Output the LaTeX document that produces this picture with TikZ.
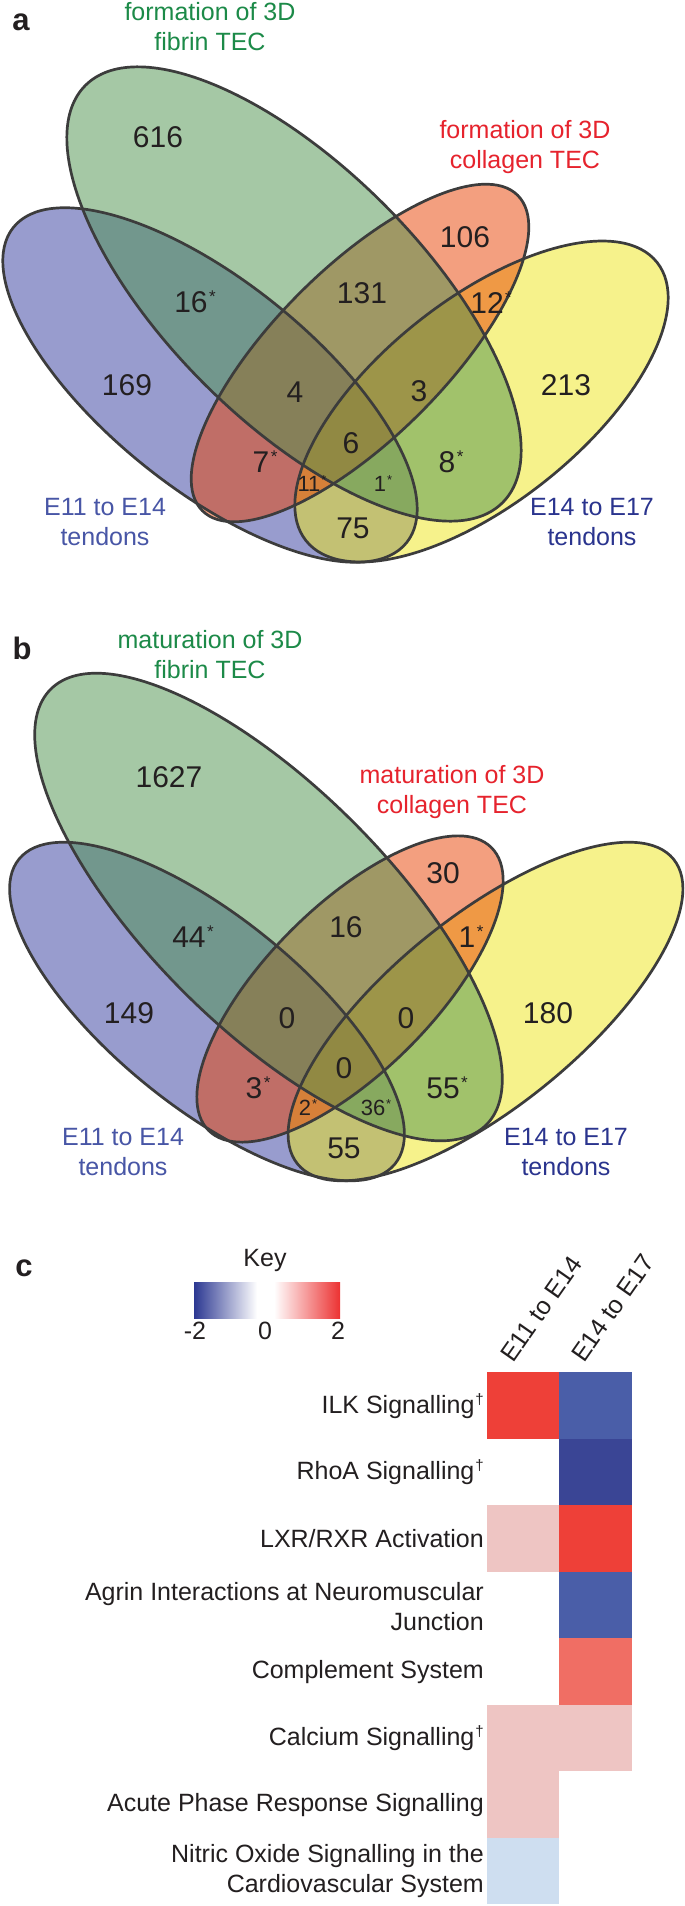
\documentclass[tikz,border=0pt]{standalone}
\usepackage{fontspec}
\setmainfont{Liberation Sans}
\definecolor{vblue}{RGB}{51,59,159}
\definecolor{vgreen}{RGB}{77,147,77}
\definecolor{vred}{RGB}{233,65,1}
\definecolor{vyellow}{RGB}{239,231,25}
\definecolor{vline}{RGB}{60,60,60}
\definecolor{tgreen}{RGB}{28,138,72}
\definecolor{tred}{RGB}{230,35,45}
\definecolor{tbluea}{RGB}{72,86,166}
\definecolor{tblueb}{RGB}{42,52,142}
\definecolor{txt}{RGB}{35,31,32}
\definecolor{kblue}{RGB}{44,56,146}
\definecolor{kred}{RGB}{236,50,50}
\definecolor{hred}{RGB}{238,64,56}
\definecolor{hblue}{RGB}{74,94,168}
\definecolor{hdblue}{RGB}{58,69,149}
\definecolor{hpink}{RGB}{238,197,195}
\definecolor{hsalmon}{RGB}{240,110,100}
\definecolor{hlblue}{RGB}{206,222,240}
\newcommand\stx{\rlap{\kern1.5pt\raisebox{10pt}{\fontsize{17}{17}\selectfont *}}}
\newcommand\stxs{\rlap{\kern1pt\raisebox{7pt}{\fontsize{13}{13}\selectfont *}}}
\newcommand\dgr{\kern1pt\raisebox{9pt}{\fontsize{15}{15}\selectfont\char"2020}}
\begin{document}
\begin{tikzpicture}[x=1pt,y=-1pt,
  outl/.style={draw=vline,line width=2.7pt},
  num/.style={font=\fontsize{30}{36}\selectfont,text=txt,inner sep=0pt},
  snum/.style={font=\fontsize{22}{26}\selectfont,text=txt,inner sep=0pt},
  ttl/.style={font=\fontsize{25}{30}\selectfont,align=center,inner sep=0pt},
  plbl/.style={font=\bfseries\fontsize{31}{36}\selectfont,text=txt,inner sep=0pt},
  lbl/.style={font=\fontsize{25}{30}\selectfont,text=txt,inner sep=0pt},
  rlbl/.style={font=\fontsize{25}{30}\selectfont,text=txt,inner sep=0pt,anchor=east,align=right},
  hdr/.style={font=\fontsize{25}{30}\selectfont,text=txt,inner sep=0pt,anchor=base west,rotate=55}]
\useasboundingbox (0,0) rectangle (685,1906);
\fill[white] (0,0) rectangle (685,1906);

% ---------- panel a ----------
\begin{scope}[fill opacity=0.5]
\fill[vblue,shift={(210,385)},rotate=-38.7] (0,0) ellipse [x radius=252pt,y radius=104pt];
\fill[vyellow,shift={(481.5,401.5)},rotate=38.4] (0,0) ellipse [x radius=224pt,y radius=102pt];
\fill[vred,shift={(360,353)},rotate=45] (0,0) ellipse [x radius=223pt,y radius=85pt];
\fill[vgreen,shift={(294,294)},rotate=-45] (0,0) ellipse [x radius=295pt,y radius=127pt];
\end{scope}
\draw[outl,shift={(210,385)},rotate=-38.7] (0,0) ellipse [x radius=252pt,y radius=104pt];
\draw[outl,shift={(481.5,401.5)},rotate=38.4] (0,0) ellipse [x radius=224pt,y radius=102pt];
\draw[outl,shift={(360,353)},rotate=45] (0,0) ellipse [x radius=223pt,y radius=85pt];
\draw[outl,shift={(294,294)},rotate=-45] (0,0) ellipse [x radius=295pt,y radius=127pt];

\node[plbl] (pa) at (21,22) {a};
\node[ttl,text=tgreen] (ta1) at (210,27) {formation of 3D\\fibrin TEC};
\node[ttl,text=tred] (ta2) at (525,147) {formation of 3D\\collagen TEC};
\node[ttl,text=tbluea] (ta3) at (105,522) {E11 to E14\\tendons};
\node[ttl,text=tblueb] (ta4) at (592,522) {E14 to E17\\tendons};
\node[num] (a616) at (158,137) {616};
\node[num] (a106) at (465,237) {106};
\node[num] (a131) at (362,293) {131};
\node[num] (a16) at (191,302) {16\stx};
\node[num] (a12) at (487,303) {12\stx};
\node[num] (a169) at (127,385) {169};
\node[num] (a4) at (295,392) {4};
\node[num] (a3) at (419,391) {3};
\node[num] (a213) at (566,385) {213};
\node[num] (a6) at (351,443) {6};
\node[num] (a7) at (261,462) {7\stx};
\node[num] (a8) at (447,462) {8\stx};
\node[snum] (a11) at (309,484) {11\stxs};
\node[snum] (a1) at (380,484) {1\stxs};
\node[num] (a75) at (353,528) {75};

% ---------- panel b ----------
\begin{scope}[fill opacity=0.5]
\fill[vblue,shift={(207,1011.5)},rotate=-39] (0,0) ellipse [x radius=242pt,y radius=95pt];
\fill[vyellow,shift={(485.5,1011.5)},rotate=39] (0,0) ellipse [x radius=242pt,y radius=95pt];
\fill[vred,shift={(350,989)},rotate=45] (0,0) ellipse [x radius=200pt,y radius=83pt];
\fill[vgreen,shift={(268.5,907)},rotate=-45] (0,0) ellipse [x radius=308pt,y radius=120pt];
\end{scope}
\draw[outl,shift={(207,1011.5)},rotate=-39] (0,0) ellipse [x radius=242pt,y radius=95pt];
\draw[outl,shift={(485.5,1011.5)},rotate=39] (0,0) ellipse [x radius=242pt,y radius=95pt];
\draw[outl,shift={(350,989)},rotate=45] (0,0) ellipse [x radius=200pt,y radius=83pt];
\draw[outl,shift={(268.5,907)},rotate=-45] (0,0) ellipse [x radius=308pt,y radius=120pt];

\node[plbl] (pb) at (22,648) {b};
\node[ttl,text=tgreen] (tb1) at (210,655) {maturation of 3D\\fibrin TEC};
\node[ttl,text=tred] (tb2) at (452,792) {maturation of 3D\\collagen TEC};
\node[ttl,text=tbluea] (tb3) at (123,1152) {E11 to E14\\tendons};
\node[ttl,text=tblueb] (tb4) at (566,1152) {E14 to E17\\tendons};
\node[num] (b1627) at (169,777) {1627};
\node[num] (b30) at (443,873) {30};
\node[num] (b16) at (346,927) {16};
\node[num] (b44) at (189,937) {44\stx};
\node[num] (b1) at (467,937) {1\stx};
\node[num] (b149) at (129,1013) {149};
\node[num] (b0a) at (287,1018) {0};
\node[num] (b0b) at (406,1018) {0};
\node[num] (b180) at (548,1013) {180};
\node[num] (b0c) at (344,1068) {0};
\node[num] (b3) at (254,1088) {3\stx};
\node[num] (b55s) at (443,1088) {55\stx};
\node[snum] (b2) at (305,1108) {2\stxs};
\node[snum] (b36) at (373,1108) {36\stxs};
\node[num] (b55) at (344,1148) {55};

% ---------- panel c ----------
\node[plbl] (pc) at (24,1268) {c};
\node[lbl] (key) at (265,1260) {Key};
\shade[left color=kblue,right color=white] (194,1282) rectangle (257,1318);
\shade[left color=white,right color=kred] (274,1282) rectangle (340,1318);
\node[lbl] (km2) at (195,1331) {-2};
\node[lbl] (k0) at (265,1331) {0};
\node[lbl] (k2) at (338,1331) {2};

\node[hdr] (h1) at (513,1364) {E11 to E14};
\node[hdr] (h2) at (584,1364) {E14 to E17};

% heat map cells
\fill[hred]    (487,1372)   rectangle (559,1438.5);
\fill[hblue]   (559,1372)   rectangle (632,1438.5);
\fill[hdblue]  (559,1438.5) rectangle (632,1505);
\fill[hpink]   (487,1505)   rectangle (559,1571.5);
\fill[hred]    (559,1505)   rectangle (632,1571.5);
\fill[hblue]   (559,1571.5) rectangle (632,1638);
\fill[hsalmon] (559,1638)   rectangle (632,1704.5);
\fill[hpink]   (487,1704.5) rectangle (559,1771);
\fill[hpink]   (559,1704.5) rectangle (632,1771);
\fill[hpink]   (487,1771)   rectangle (559,1837.5);
\fill[hlblue]  (487,1837.5) rectangle (559,1904);

\node[rlbl] (r1) at (484,1406) {ILK Signalling\dgr};
\node[rlbl] (r2) at (484,1472) {RhoA Signalling\dgr};
\node[rlbl] (r3) at (484,1539) {LXR/RXR Activation};
\node[rlbl] (r4) at (484,1607) {Agrin Interactions at Neuromuscular\\Junction};
\node[rlbl] (r5) at (484,1672) {Complement System};
\node[rlbl] (r6) at (484,1738) {Calcium Signalling\dgr};
\node[rlbl] (r7) at (484,1805) {Acute Phase Response Signalling};
\node[rlbl] (r8) at (484,1871) {Nitric Oxide Signalling in the\\Cardiovascular System};
\end{tikzpicture}
\end{document}
